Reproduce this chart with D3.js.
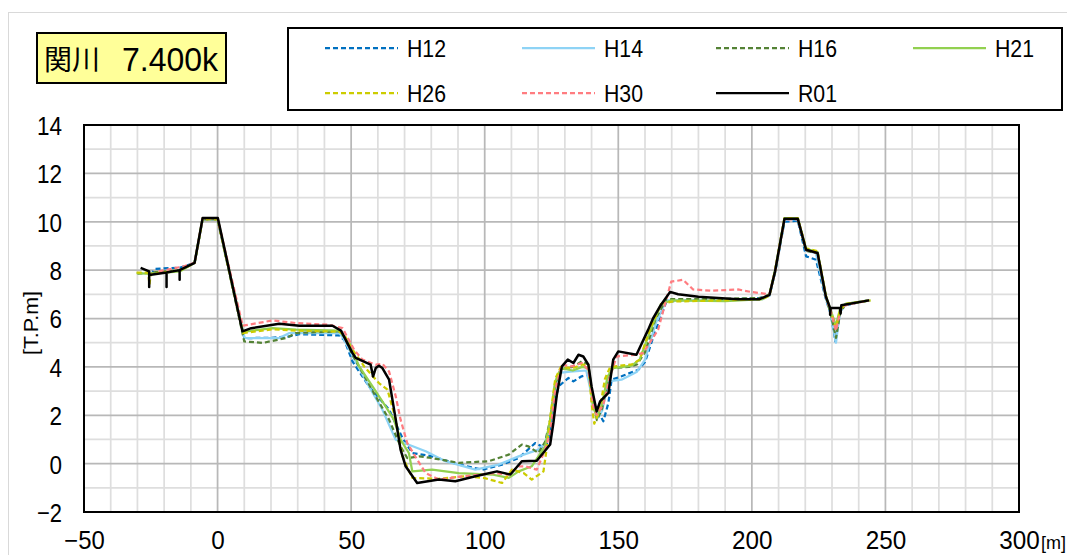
<!DOCTYPE html>
<html>
<head>
<meta charset="utf-8">
<script src="https://cdn.jsdelivr.net/npm/d3@7"></script>
<style>
  body { margin: 0; background: #fff; }
  svg { display: block; }
  text { font-family: "Liberation Sans", Arial, "Noto Sans CJK JP", sans-serif; fill: #000; }
</style>
</head>
<body>
<svg id="chart" width="1067" height="555"></svg>
<script>
// cross section survey lines, [distance (m), elevation T.P.m]
var seriesNames = ['H12', 'H14', 'H16', 'H21', 'H26', 'H30', 'R01'];
var seriesColors = ['#0070C0', '#8ED3F5', '#548235', '#92D050', '#CCCC00', '#FF7C80', '#000000'];
var seriesDashed = [true, false, true, false, true, true, false];

var h12 = [[-25,7.8],[-23.5,8.05],[-14.2,8.1],[-8.6,8.3],[-5.6,10.1],[0,10.1],[10,5.19],[20,5.2],[26.9,5.26],[30.6,5.35],[45.5,5.3],[47.5,5.1],[50.5,4.23],[56.7,3.19],[64.2,2.23],[69.2,1.06],[72.9,0.44],[80.3,0.3],[90.3,-0.04],[99,-0.25],[106.5,-0.04],[112.7,0.23],[118.9,0.85],[122.6,0.65],[124,1.0],[125.1,1.95],[127.6,3.19],[131.3,3.54],[133.2,3.4],[136.3,3.61],[138.8,3.68],[141.3,2.37],[144.4,1.75],[146.3,2.51],[147.5,3.47],[151.2,3.61],[157.5,3.88],[160,4.2],[163,5.2],[168,6.7],[175,6.75],[195,6.8],[203,6.85],[206.6,6.95],[208.7,7.9],[212.2,10.0],[217.2,10.05],[220.3,8.57],[224,8.43],[227.7,6.8],[229.5,6.2],[231.3,5.05],[233,6.3],[235,6.55],[243.9,6.75]];
var h14 = [[-25,7.85],[-14,8.0],[-8.6,8.3],[-5.6,10.1],[0,10.1],[10.1,5.19],[23.1,5.19],[26.9,5.4],[45.5,5.4],[47,5.2],[49.3,4.71],[56.7,3.19],[61.7,2.23],[66.7,0.99],[71.6,0.78],[77.9,0.51],[85.3,0.1],[96.5,-0.25],[105.2,-0.04],[112.7,0.3],[120.1,0.58],[122.6,0.85],[124.5,1.7],[126.5,3.2],[128,3.75],[132,3.8],[138,3.85],[140.5,2.6],[142.5,1.9],[144,2.2],[146.3,3.4],[151.2,3.47],[157,3.8],[160,4.3],[164,5.8],[168,6.75],[190,6.75],[204,6.8],[206.6,6.95],[208.7,7.95],[212.2,10.1],[217.2,10.1],[220.3,8.8],[224,8.7],[227.7,6.85],[229.5,6.2],[231.5,5.0],[233,6.3],[235,6.6],[243.9,6.75]];
var h16 = [[-30,7.85],[-25,7.9],[-14,8.0],[-8.6,8.3],[-5.6,10.1],[0,10.1],[10,5.05],[16.9,4.99],[25.6,5.19],[29.4,5.4],[45.5,5.47],[47.5,5.25],[50.5,4.5],[59.2,2.78],[64.2,1.82],[68.5,0.71],[71,0.23],[75.4,0.3],[80.3,0.23],[90.3,0.03],[101.5,0.1],[109,0.37],[113.9,0.79],[116.4,0.71],[120.1,0.44],[122.6,0.9],[124.5,1.8],[126.4,3.3],[128.5,3.9],[133,4.0],[136.3,4.23],[138.8,4.1],[140.5,2.6],[142,1.8],[144,2.3],[146,3.4],[148,3.95],[154,4.0],[157,4.1],[160,4.6],[164,6.0],[168,6.8],[185,6.8],[204,6.85],[206.6,7.0],[208.7,7.95],[212.2,10.12],[217.2,10.12],[220.3,8.8],[224.6,8.7],[227.7,6.9],[229.5,6.2],[231.5,5.2],[233,6.2],[235,6.6],[243.9,6.75]];
var h21 = [[-30.3,7.88],[-25,7.85],[-14,7.95],[-8.6,8.3],[-5.6,10.15],[0,10.15],[9.5,5.45],[20.6,5.6],[29.4,5.54],[45.5,5.5],[47,5.3],[49.3,4.99],[53,4.02],[58,3.19],[62.9,2.37],[66,1.82],[68.5,0.99],[71.6,0.44],[72.9,-0.32],[80.3,-0.25],[90.3,-0.39],[102.7,-0.45],[109,-0.59],[112.7,-0.32],[117.6,-0.11],[122.6,0.71],[124.5,1.8],[126.4,3.4],[128.5,3.95],[133,3.85],[136.5,4.0],[138.8,3.95],[140.5,2.4],[142,1.9],[144,2.5],[146,3.6],[148,3.95],[155,4.05],[158,4.3],[162,5.5],[166,6.6],[170,6.75],[190,6.72],[204,6.8],[206.6,7.0],[208.7,8.0],[212.2,10.15],[217.2,10.15],[220.3,8.88],[224.6,8.75],[227.7,6.95],[229.5,6.35],[231.5,5.7],[233,6.4],[235,6.6],[244.4,6.75]];
var h26 = [[-30.3,7.9],[-26,7.9],[-25.5,7.4],[-25,7.85],[-14,8.0],[-8.6,8.3],[-5.6,10.1],[0,10.1],[9.5,5.4],[20.6,5.55],[29.4,5.5],[45.5,5.45],[47.4,5.33],[50,4.8],[55,4.0],[60.4,3.33],[63.6,3.06],[66.7,1.82],[69.2,0.3],[72.9,-0.59],[82.8,-0.63],[92.8,-0.52],[100,-0.6],[106.5,-0.8],[110.2,-0.25],[114.6,-0.39],[117.6,-0.66],[122,-0.32],[123.3,0.71],[124.5,1.9],[126.4,3.5],[128.5,4.0],[133,3.95],[136.5,4.1],[138.8,4.05],[140,2.5],[141,1.65],[143,2.2],[145,3.5],[147,4.0],[155,4.1],[158,4.3],[162,5.6],[166,6.6],[170,6.7],[190,6.75],[204,6.8],[206.6,6.95],[208.7,8.0],[212.2,10.15],[217.2,10.15],[220.3,8.9],[224.6,8.78],[227.7,6.95],[229.5,6.3],[231.5,5.6],[233,6.35],[235,6.6],[244.4,6.75]];
var h30 = [[-22,7.95],[-12.9,8.15],[-8.6,8.3],[-5.6,10.15],[0,10.15],[9.4,5.7],[20.6,5.92],[29.4,5.81],[41.8,5.74],[46.8,5.6],[51.1,4.71],[54.2,4.3],[59.2,4.09],[61.7,4.13],[64.2,3.81],[66.7,2.78],[68.5,1.82],[71,0.85],[74.7,0.17],[77.9,-0.39],[82.8,-0.66],[90,-0.55],[104,-0.39],[109,-0.45],[112.7,-0.11],[115.2,-0.11],[119.5,-0.25],[122.6,0.58],[124.5,1.27],[126.4,3.06],[128.9,4.09],[132.6,4.02],[136.3,4.16],[138.8,3.88],[140.7,2.37],[141.9,2.02],[144.4,2.44],[146.9,3.61],[149.4,4.43],[156.2,4.5],[159.3,4.57],[164.9,5.54],[169.8,7.52],[174.3,7.6],[178,7.2],[185,7.15],[194.8,7.2],[199.6,7.1],[206.6,7.0],[208.7,7.95],[212.2,10.1],[217.2,10.1],[220.3,8.84],[224.6,8.7],[227.7,6.9],[229.5,6.3],[231.5,5.5],[233.3,6.4],[235,6.55],[243.9,6.75]];
var r01 = [[-28.8,8.09],[-25.6,7.95],[-25.6,7.3],[-25.6,7.8],[-19.1,7.9],[-19.1,7.3],[-19.1,7.9],[-14.2,8.0],[-14.2,7.6],[-14.2,8.0],[-8.6,8.3],[-5.6,10.15],[0.1,10.15],[9.3,5.47],[12.6,5.6],[23.1,5.78],[30.6,5.7],[43,5.7],[46.2,5.5],[50.5,4.57],[51.7,4.37],[57.3,4.09],[58.2,3.6],[59.2,3.95],[60.4,4.05],[61.7,3.95],[64.2,3.47],[66.7,1.82],[68.5,0.58],[70.4,-0.11],[74.7,-0.8],[82.8,-0.66],[89,-0.73],[96.5,-0.52],[104.6,-0.32],[109.6,-0.45],[113.9,0.1],[119.5,0.12],[124.5,0.79],[125.7,1.68],[127,2.85],[128.9,4.02],[131.1,4.3],[133.2,4.16],[135.1,4.5],[136.9,4.43],[138.8,4.09],[140,3.19],[141.9,2.16],[143.2,2.57],[146.3,2.92],[148.1,4.3],[150,4.64],[156.8,4.5],[161.2,5.54],[163,6.0],[166,6.57],[169.4,7.1],[172.4,7.0],[180,6.9],[194.8,6.8],[202.9,6.8],[206.6,6.98],[208.7,7.95],[212.2,10.12],[217.2,10.12],[220.3,8.84],[224.6,8.71],[227.7,6.91],[229.3,6.43],[229.3,6.15],[229.5,6.43],[233,6.43],[233.2,6.2],[233.5,6.55],[243.9,6.75]];
var seriesData = [h12, h14, h16, h21, h26, h30, r01];

var xTicks = [-50, 0, 50, 100, 150, 200, 250, 300];
var yTicks = [-2, 0, 2, 4, 6, 8, 10, 12, 14];
var titlePlace = '関川';
var titleKm = '7.400k';

var svg = d3.select('#chart');
var MARGINS = {top: 125, right: 48, bottom: 43, left: 84};
var WIDTH = 1067, HEIGHT = 555;

var xRange = d3.scaleLinear().domain([-50, 300]).range([MARGINS.left, WIDTH - MARGINS.right]);
var yRange = d3.scaleLinear().domain([-2, 14]).range([HEIGHT - MARGINS.bottom, MARGINS.top]);

// narrow look of the original font: squeeze each label to a fixed width per character
function squeeze(sel, perChar){
    sel.each(function(){
        var n = this.textContent.length;
        d3.select(this).attr('textLength', n * perChar).attr('lengthAdjust', 'spacingAndGlyphs');
    });
}

// outer chart area border
svg.append('rect')
    .attr('x', 8.5).attr('y', 12.5)
    .attr('width', 1100).attr('height', 600)
    .attr('fill', '#fff').attr('stroke', '#d9d9d9').attr('stroke-width', 1);

// minor grid (every 10 m / 1 m)
var grid = svg.append('g');
grid.selectAll('line.vminor')
    .data(d3.range(-40, 300, 10).filter(function(d){ return d % 50 !== 0; }))
    .enter().append('line')
    .attr('x1', function(d){ return xRange(d); }).attr('x2', function(d){ return xRange(d); })
    .attr('y1', yRange(-2)).attr('y2', yRange(14))
    .attr('stroke', '#dedede').attr('stroke-width', 1.75);
grid.selectAll('line.hminor')
    .data(d3.range(-1, 14, 2))
    .enter().append('line')
    .attr('x1', xRange(-50)).attr('x2', xRange(300))
    .attr('y1', function(d){ return yRange(d); }).attr('y2', function(d){ return yRange(d); })
    .attr('stroke', '#dedede').attr('stroke-width', 1.75);
// major grid
grid.selectAll('line.vmajor')
    .data(xTicks.slice(1, -1))
    .enter().append('line')
    .attr('x1', function(d){ return xRange(d); }).attr('x2', function(d){ return xRange(d); })
    .attr('y1', yRange(-2)).attr('y2', yRange(14))
    .attr('stroke', '#b8b8b8').attr('stroke-width', 1.75);
grid.selectAll('line.hmajor')
    .data(yTicks.slice(1, -1))
    .enter().append('line')
    .attr('x1', xRange(-50)).attr('x2', xRange(300))
    .attr('y1', function(d){ return yRange(d); }).attr('y2', function(d){ return yRange(d); })
    .attr('stroke', '#b8b8b8').attr('stroke-width', 1.75);

// series lines
var lineFunc = d3.line()
    .x(function(d){ return xRange(d[0]); })
    .y(function(d){ return yRange(d[1]); });

for (let i = 0; i < seriesData.length; i++){
    svg.append('path')
        .attr('d', lineFunc(seriesData[i]))
        .attr('fill', 'none')
        .attr('stroke', seriesColors[i])
        .attr('stroke-width', i === 6 ? 2.5 : 2.25)
        .attr('stroke-linejoin', 'round')
        .attr('stroke-dasharray', seriesDashed[i] ? '5,3' : null);
}

// plot frame
svg.append('rect')
    .attr('x', xRange(-50)).attr('y', yRange(14))
    .attr('width', xRange(300) - xRange(-50)).attr('height', yRange(-2) - yRange(14))
    .attr('fill', 'none').attr('stroke', '#000').attr('stroke-width', 2);

// axes (labels only)
var yAxis = d3.axisLeft(yRange).tickValues(yTicks).tickSize(0).tickPadding(22);
var gy = svg.append('g').attr('transform', 'translate(' + MARGINS.left + ',0)').call(yAxis);
gy.select('.domain').remove();
gy.selectAll('text').style('font-size', '26px').attr('dy', '0.36em')
    .style('font-family', '"Liberation Sans", Arial, sans-serif');
squeeze(gy.selectAll('text'), 12.5);

var xAxis = d3.axisBottom(xRange).tickValues(xTicks).tickSize(0).tickPadding(19);
var gx = svg.append('g').attr('transform', 'translate(0,' + (HEIGHT - MARGINS.bottom) + ')').call(xAxis);
gx.select('.domain').remove();
gx.selectAll('text').style('font-size', '25px')
    .style('font-family', '"Liberation Sans", Arial, sans-serif');
squeeze(gx.selectAll('text'), 13.5);

svg.append('text')
    .attr('x', xRange(300) + 22).attr('y', 549)
    .style('font-size', '19px')
    .attr('textLength', 25).attr('lengthAdjust', 'spacingAndGlyphs')
    .text('[m]');

svg.append('text')
    .attr('transform', 'translate(38,323) rotate(-90)')
    .attr('text-anchor', 'middle')
    .style('font-size', '21px')
    .attr('textLength', 64).attr('lengthAdjust', 'spacingAndGlyphs')
    .text('[T.P.m]');

// title box
svg.append('rect')
    .attr('x', 37).attr('y', 33).attr('width', 189).attr('height', 50)
    .attr('fill', '#FFFF99').attr('stroke', '#000').attr('stroke-width', 2);
svg.append('text')
    .attr('x', 44).attr('y', 70)
    .style('font-size', '28px')
    .style('font-family', '"Noto Sans CJK JP", sans-serif')
    .text(titlePlace);
svg.append('text')
    .attr('x', 122).attr('y', 71)
    .style('font-size', '34px')
    .style('font-family', '"Liberation Sans", Arial, sans-serif')
    .attr('textLength', 96).attr('lengthAdjust', 'spacingAndGlyphs')
    .text(titleKm);

// legend
svg.append('rect')
    .attr('x', 288).attr('y', 28).attr('width', 774).attr('height', 82)
    .attr('fill', '#fff').attr('stroke', '#000').attr('stroke-width', 2);
var legendCols = [325, 522, 716, 913];
var legendRows = [48, 93];
for (let i = 0; i < seriesNames.length; i++){
    let lx = legendCols[i % 4];
    let ly = legendRows[Math.floor(i / 4)];
    svg.append('line')
        .attr('x1', lx).attr('x2', lx + 73)
        .attr('y1', ly).attr('y2', ly)
        .attr('stroke', seriesColors[i])
        .attr('stroke-width', 2.25)
        .attr('stroke-dasharray', seriesDashed[i] ? '5,3' : null);
    svg.append('text')
        .attr('x', lx + 82).attr('y', ly + 9)
        .style('font-size', '24px')
        .attr('textLength', 39).attr('lengthAdjust', 'spacingAndGlyphs')
        .text(seriesNames[i]);
}
</script>
</body>
</html>
